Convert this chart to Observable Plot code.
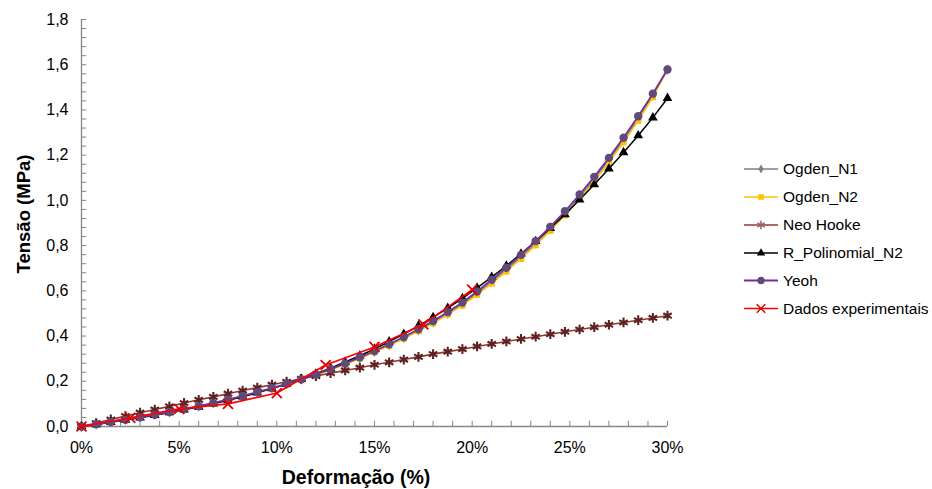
<!DOCTYPE html>
<html>
<head>
<meta charset="utf-8">
<script src="https://cdn.jsdelivr.net/npm/d3@7"></script>
<script src="https://cdn.jsdelivr.net/npm/@observablehq/plot@0.6"></script>
<style>
  html, body { margin: 0; padding: 0; background: #fff; }
  #wrap { position: relative; width: 932px; height: 489px; font-family: "Liberation Sans", Arial, sans-serif; color: #000; }
  #wrap svg.plot { position: absolute; left: 0; top: 0; }
  .title { position: absolute; font-weight: bold; white-space: nowrap; }
  #legend { position: absolute; left: 0; top: 0; }
</style>
</head>
<body>
<div id="wrap"></div>
<script>
// ---- data ----
const strain = [0,0.75,1.5,2.25,3,3.75,4.5,5.25,6,6.75,7.5,8.25,9,9.75,10.5,11.25,12,12.75,13.5,14.25,15,15.75,16.5,17.25,18,18.75,19.5,20.25,21,21.75,22.5,23.25,24,24.75,25.5,26.25,27,27.75,28.5,29.25,30];
const ogdenN1 = [0,0.010,0.020,0.030,0.041,0.052,0.063,0.076,0.089,0.103,0.118,0.134,0.151,0.169,0.188,0.208,0.229,0.252,0.277,0.303,0.331,0.361,0.392,0.426,0.461,0.500,0.541,0.589,0.640,0.693,0.750,0.810,0.874,0.943,1.016,1.095,1.178,1.267,1.362,1.464,1.578];
const ogdenN2 = [0,0.010,0.020,0.030,0.040,0.051,0.063,0.075,0.088,0.102,0.117,0.133,0.150,0.168,0.187,0.207,0.228,0.251,0.275,0.301,0.329,0.358,0.389,0.422,0.457,0.495,0.536,0.583,0.633,0.686,0.742,0.802,0.866,0.934,1.007,1.085,1.168,1.257,1.353,1.457,1.578];
const neoHooke = [0,0.015,0.031,0.046,0.061,0.075,0.089,0.104,0.118,0.131,0.145,0.159,0.172,0.185,0.198,0.211,0.223,0.236,0.248,0.260,0.273,0.284,0.296,0.308,0.320,0.331,0.342,0.354,0.365,0.376,0.387,0.397,0.408,0.419,0.429,0.439,0.450,0.460,0.470,0.480,0.490];
const rPolyN2 = [0,0.009,0.019,0.029,0.039,0.050,0.062,0.074,0.087,0.101,0.116,0.132,0.149,0.168,0.188,0.210,0.233,0.258,0.285,0.313,0.343,0.375,0.409,0.445,0.483,0.524,0.567,0.613,0.661,0.711,0.764,0.819,0.877,0.938,1.003,1.070,1.140,1.212,1.287,1.366,1.452];
const yeoh = [0,0.010,0.020,0.030,0.041,0.052,0.064,0.077,0.090,0.104,0.119,0.135,0.152,0.170,0.189,0.209,0.231,0.254,0.279,0.306,0.334,0.364,0.396,0.430,0.466,0.506,0.548,0.597,0.649,0.702,0.759,0.820,0.883,0.952,1.026,1.104,1.188,1.277,1.372,1.472,1.579];
const expStrain = [0,2.5,5,7.5,10,12.5,15,17.5,20];
const expStress = [0,0.038,0.078,0.100,0.148,0.272,0.352,0.452,0.605];
const yTicks = [0,0.2,0.4,0.6,0.8,1.0,1.2,1.4,1.6,1.8];
const xTicks = [0,5,10,15,20,25,30];
const seriesNames = ["Ogden_N1","Ogden_N2","Neo Hooke","R_Polinomial_N2","Yeoh","Dados experimentais"];

// ---- styles ----
const styles = {
  "Ogden_N1":            {line: "#7f7f7f", mark: "#7f7f7f", symbol: "diamond", r: 3.2, filled: true,  lw: 1.5},
  "Ogden_N2":            {line: "#ffc000", mark: "#ffc000", symbol: "square",  r: 3.6, filled: true,  lw: 1.5},
  "Neo Hooke":           {line: "#953735", mark: "#5e2321", symbol: "asterisk",r: 4.6, filled: false, lw: 1.6, sw: 2.1},
  "R_Polinomial_N2":     {line: "#000000", mark: "#000000", symbol: "triangle",r: 3.6, filled: true,  lw: 1.5},
  "Yeoh":                {line: "#7030a0", mark: "#604a7b", symbol: "circle",  r: 4.2, filled: true,  lw: 1.8},
  "Dados experimentais": {line: "#ff0000", mark: "#e00000", symbol: "times",   r: 4.6, filled: false, lw: 1.6, sw: 1.8}
};

const toRows = (xs, ys) => xs.map((x, i) => ({x, y: ys[i]}));
const data = {
  "Ogden_N1": toRows(strain, ogdenN1),
  "Ogden_N2": toRows(strain, ogdenN2),
  "Neo Hooke": toRows(strain, neoHooke),
  "R_Polinomial_N2": toRows(strain, rPolyN2),
  "Yeoh": toRows(strain, yeoh),
  "Dados experimentais": toRows(expStrain, expStress)
};

const axisGray = "#868686";
const yMinor = d3.range(0, 1.8001, 0.04);
const xMinor = d3.range(0, 30.001, 1);

const marks = [];
// axis lines and inward ticks
marks.push(Plot.ruleY(yMinor, {x1: 0, x2: 0.27, stroke: axisGray, strokeWidth: 1}));
marks.push(Plot.ruleX(xMinor, {y1: 0, y2: 0.023, stroke: axisGray, strokeWidth: 1}));
marks.push(Plot.ruleX([0], {y1: 0, y2: 1.8, stroke: axisGray, strokeWidth: 1.3}));
marks.push(Plot.ruleY([0], {x1: 0, x2: 30, stroke: axisGray, strokeWidth: 1.3}));
marks.push(Plot.axisY(yTicks, {tickSize: 0, tickPadding: 13, fontSize: 16, tickFormat: d => d.toFixed(1).replace(".", ","), label: null}));
marks.push(Plot.axisX(xTicks, {tickSize: 0, tickPadding: 15, fontSize: 16, tickFormat: d => d + "%", label: null}));

for (const name of seriesNames) {
  const s = styles[name];
  marks.push(Plot.line(data[name], {x: "x", y: "y", stroke: s.line, strokeWidth: s.lw}));
  if (s.filled) {
    marks.push(Plot.dot(data[name], {x: "x", y: "y", symbol: s.symbol, r: s.r, fill: s.mark, stroke: "none"}));
  } else {
    marks.push(Plot.dot(data[name], {x: "x", y: "y", symbol: s.symbol, r: s.r, fill: "none", stroke: s.mark, strokeWidth: s.sw}));
  }
}

const chart = Plot.plot({
  width: 932,
  height: 489,
  marginLeft: 81,
  marginRight: 265,
  marginTop: 19,
  marginBottom: 63,
  x: {domain: [0, 30]},
  y: {domain: [0, 1.8]},
  style: {fontFamily: "'Liberation Sans', Arial, sans-serif", fontSize: "16px", color: "#000", background: "#fff"},
  marks
});
chart.classList.add("plot");
const wrap = document.getElementById("wrap");
wrap.appendChild(chart);

// axis titles
const xt = document.createElement("div");
xt.className = "title";
xt.textContent = "Deformação (%)";
xt.style.fontSize = "19.5px";
xt.style.left = "356px";
xt.style.top = "466px";
xt.style.transform = "translateX(-50%)";
wrap.appendChild(xt);

const yt = document.createElement("div");
yt.className = "title";
yt.textContent = "Tensão (MPa)";
yt.style.fontSize = "18.5px";
yt.style.left = "24px";
yt.style.top = "214px";
yt.style.transform = "translate(-50%, -50%) rotate(-90deg)";
wrap.appendChild(yt);

// legend
const leg = d3.select(wrap).append("svg").attr("id", "legend").attr("width", 932).attr("height", 489);
const rowY = [169, 197, 225, 253, 280.5, 308.5];
seriesNames.forEach((name, i) => {
  const s = styles[name];
  const g = leg.append("g").attr("transform", `translate(0,${rowY[i]})`);
  g.append("line").attr("x1", 744).attr("x2", 778).attr("y1", 0).attr("y2", 0).attr("stroke", s.line).attr("stroke-width", s.lw);
  const symMap = {diamond: d3.symbolDiamond, square: d3.symbolSquare, asterisk: d3.symbolAsterisk, triangle: d3.symbolTriangle, circle: d3.symbolCircle, times: d3.symbolTimes};
  const area = Math.PI * s.r * s.r * 0.75;
  const p = g.append("path").attr("transform", "translate(761,0)").attr("d", d3.symbol(symMap[s.symbol], area)());
  if (s.filled) p.attr("fill", s.mark); else p.attr("fill", "none").attr("stroke", name === "Neo Hooke" ? "#a0605e" : s.mark).attr("stroke-width", 1.5);
  g.append("text").attr("x", 783).attr("y", 0).attr("dy", "0.35em").attr("font-size", 15.5).attr("font-family", "'Liberation Sans', Arial, sans-serif").attr("fill", "#000").text(name);
});
</script>
</body>
</html>
